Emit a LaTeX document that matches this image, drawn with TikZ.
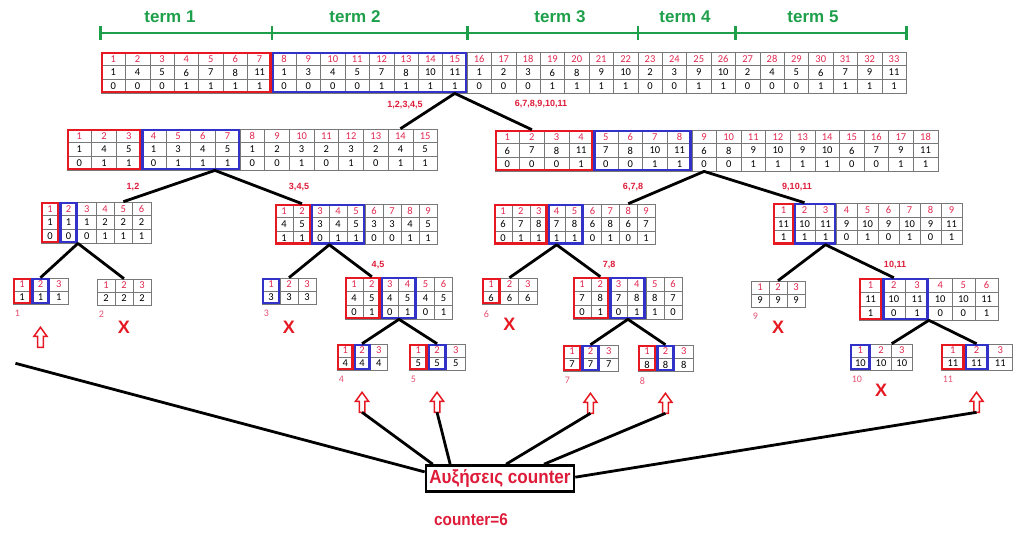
\documentclass[tikz,border=0pt]{standalone}
\usepackage{fontspec}
\setmainfont{Carlito}
\newfontfamily\headfont{Liberation Sans}
\newfontfamily\narrowfont[FakeStretch=0.9]{Liberation Sans}
\usetikzlibrary{calc, positioning}
\definecolor{boxred}{RGB}{230,25,35}
\definecolor{boxblue}{RGB}{50,50,200}
\definecolor{idxred}{RGB}{225,40,80}
\definecolor{lblred}{RGB}{222,28,58}
\definecolor{termgreen}{RGB}{30,160,75}
\definecolor{gridgray}{RGB}{120,120,120}
\tikzstyle{cell}=[draw=gridgray, line width=0.6pt, inner sep=0pt, font=\fontsize{10.5}{10.5}\selectfont]
\tikzstyle{idx}=[cell, text=idxred]
\tikzstyle{redbox}=[draw=boxred, line width=2.6pt]
\tikzstyle{bluebox}=[draw=boxblue, line width=2.6pt]
\tikzstyle{branch}=[line width=2.8pt, black, line join=round]
\tikzstyle{termline}=[draw=termgreen, line width=2.6pt]
\tikzstyle{term}=[text=termgreen, font=\headfont\bfseries\fontsize{17}{17}\selectfont]
\tikzstyle{lbl}=[text=lblred, font=\headfont\bfseries\fontsize{9}{9}\selectfont]
\tikzstyle{leafno}=[text=idxred!80, font=\fontsize{10}{10}\selectfont, inner sep=0pt]
\tikzstyle{miss}=[text=boxred, font=\headfont\bfseries\fontsize{18}{18}\selectfont, inner sep=0pt]
\tikzset{uparr/.pic={
  \draw[draw=boxred, line width=1.5pt, fill=white, line join=miter] (-2.8,0) -- (-2.8,-11) -- (-6.5,-11) -- (0,-20) -- (6.5,-11) -- (2.8,-11) -- (2.8,0) -- cycle;
  \coordinate (-tail) at (0,0);
}}
% table with index row, value row and bit row
\newcommand\numtab[6]{%
  \foreach \val/\bit [count=\i] in {#6}{
    \node[idx, minimum width=#4pt, minimum height=#5pt] (#1-\i-1) at ({#2+(\i-0.5)*#4},{#3+0.5*#5}) {\i};
    \node[cell, minimum width=#4pt, minimum height=#5pt] (#1-\i-2) at ({#2+(\i-0.5)*#4},{#3+1.5*#5}) {\val};
    \node[cell, minimum width=#4pt, minimum height=#5pt] (#1-\i-3) at ({#2+(\i-0.5)*#4},{#3+2.5*#5}) {\bit};
  }}
% leaf table, three cells with the same value
\newcommand\leaftab[5]{%
  \foreach \i in {1,2,3}{
    \node[idx, minimum width=#4pt, minimum height=13pt] (#1-\i-1) at ({#2+(\i-0.5)*#4},{#3+6.5}) {\i};
    \node[cell, minimum width=#4pt, minimum height=13pt] (#1-\i-2) at ({#2+(\i-0.5)*#4},{#3+19.5}) {#5};
  }}
\newcommand\hlbox[3]{\draw[#1] ([shift={(1.4,1.4)}]#2.north west) rectangle ([shift={(-1.4,-1.4)}]#3.south east);}

\begin{document}
\begin{tikzpicture}[x=1pt, y=-1pt]
\fill[white] (0,0) rectangle (1023,533);
\useasboundingbox (0,0) rectangle (1023,533);

% top table
\numtab{T}{101}{52}{24.4}{13.7}{1/0,4/0,5/0,6/1,7/1,8/1,11/1,1/0,3/0,4/0,5/0,7/1,8/1,10/1,11/1,1/0,2/0,3/0,6/1,8/1,9/1,10/1,2/0,3/0,9/1,10/1,2/0,4/0,5/0,6/1,7/1,9/1,11/1}
\hlbox{redbox}{T-1-1}{T-7-3}
\hlbox{bluebox}{T-8-1}{T-15-3}

% terms
\coordinate (bar) at (0,33);
\draw[termline] (T-1-1.north west |- bar) -- (T-33-1.north east |- bar);
\foreach \c in {T-1-1.north west, T-7-1.north east, T-15-1.north east, T-22-1.north east, T-26-1.north east, T-33-1.north east}
  \draw[termline] ($(\c |- bar)+(0,-7)$) -- ($(\c |- bar)+(0,7)$);
\foreach \k/\x in {1/170, 2/355, 3/560, 4/685, 5/813}
  \node[term] (term\k) at (\x,17) {term \k};

% second level
\numtab{A}{67}{129}{24.7}{13.7}{1/0,4/1,5/1,1/0,3/1,4/1,5/1,1/0,2/0,3/1,2/0,3/1,2/0,4/1,5/1}
\hlbox{redbox}{A-1-1}{A-3-3}
\hlbox{bluebox}{A-4-1}{A-7-3}
\numtab{B}{495}{130}{24.6}{13.7}{6/0,7/0,8/0,11/1,7/0,8/0,10/1,11/1,6/0,8/0,9/1,10/1,9/1,10/1,6/0,7/0,9/1,11/1}
\hlbox{redbox}{B-1-1}{B-4-3}
\hlbox{bluebox}{B-5-1}{B-8-3}

% third level
\numtab{A1}{41}{202}{18.3}{13.7}{1/0,1/0,1/0,2/1,2/1,2/1}
\hlbox{redbox}{A1-1-1}{A1-1-3}
\hlbox{bluebox}{A1-2-1}{A1-2-3}
\numtab{A2}{275}{204}{18}{13.5}{4/1,5/1,3/0,4/1,5/1,3/0,3/0,4/1,5/1}
\hlbox{redbox}{A2-1-1}{A2-2-3}
\hlbox{bluebox}{A2-3-1}{A2-5-3}
\numtab{B1}{494}{204}{17.9}{13.5}{6/0,7/1,8/1,7/1,8/1,6/0,8/1,6/0,7/1}
\hlbox{redbox}{B1-1-1}{B1-3-3}
\hlbox{bluebox}{B1-4-1}{B1-5-3}
\numtab{B2}{773}{203}{21}{13.8}{11/1,10/1,11/1,9/0,10/1,9/0,10/1,9/0,11/1}
\hlbox{redbox}{B2-1-1}{B2-1-3}
\hlbox{bluebox}{B2-2-1}{B2-3-3}

% fourth level
\numtab{A2b}{345}{277}{17.9}{14}{4/0,5/1,4/0,5/1,4/0,5/1}
\hlbox{redbox}{A2b-1-1}{A2b-2-3}
\hlbox{bluebox}{A2b-3-1}{A2b-4-3}
\numtab{B1b}{573}{277}{18.2}{14}{7/0,8/1,7/0,8/1,8/1,7/0}
\hlbox{redbox}{B1b-1-1}{B1b-2-3}
\hlbox{bluebox}{B1b-3-1}{B1b-4-3}
\numtab{B2b}{859}{278}{23.2}{14}{11/1,10/0,11/1,10/0,10/0,11/1}
\hlbox{redbox}{B2b-1-1}{B2b-1-3}
\hlbox{bluebox}{B2b-2-1}{B2b-3-3}

% leaves
\leaftab{L1}{13}{278}{18.3}{1}
\leaftab{L2}{97}{279}{18}{2}
\leaftab{L3}{262}{278}{18}{3}
\leaftab{L4}{337}{344}{16.7}{4}
\leaftab{L5}{409}{344}{18.7}{5}
\leaftab{L6}{482}{278}{18.3}{6}
\leaftab{L7}{563}{345}{18.3}{7}
\leaftab{L8}{638}{345}{18.3}{8}
\leaftab{L9}{751}{281}{18}{9}
\leaftab{L10}{850}{344}{20.7}{10}
\leaftab{L11}{941}{344}{23.7}{11}
\foreach \n in {L1, L4, L5, L7, L8, L11}{
  \hlbox{redbox}{\n-1-1}{\n-1-2}
  \hlbox{bluebox}{\n-2-1}{\n-2-2}
}
\hlbox{bluebox}{L3-1-1}{L3-1-2}
\hlbox{redbox}{L6-1-1}{L6-1-2}
\hlbox{bluebox}{L10-1-1}{L10-1-2}
\foreach \k in {1,...,11}
  \node[leafno, anchor=north west] (n\k) at ($(L\k-1-2.south west)+(2,6)$) {\k};

% branches
\draw[branch] (A-14-1.north) -- (T-15-3.south) -- (B-2-1.north);
\draw[branch] (A1-5-1.north) -- (A-7-3.south west) -- (A2-2-1.north);
\draw[branch] (B1-8-1.north) -- (B-9-3.south) -- (B2-2-1.north);
\draw[branch] (L1-2-1.north) -- (A1-2-3.south east) -- (L2-2-1.north);
\draw[branch] (L3-2-1.north) -- (A2-3-3.south east) -- (A2b-2-1.north);
\draw[branch] (L4-2-1.north) -- (A2b-3-3.south east) -- (L5-2-1.north);
\draw[branch] (L6-2-1.north) -- (B1-4-3.south) -- (B1b-2-1.north);
\draw[branch] (L7-2-1.north) -- (B1b-3-3.south east) -- (L8-2-1.north);
\draw[branch] (L9-2-1.north) -- (B2-3-3.south) -- (B2b-2-1.north);
\draw[branch] (L10-2-1.north east) -- (B2b-3-3.south east) -- (L11-2-1.north);

% branch labels
\node[lbl] (l12345) at (405,105) {1,2,3,4,5};
\node[lbl] (l6to11) at (541,104) {6,7,8,9,10,11};
\node[lbl] (l12) at (133,187) {1,2};
\node[lbl] (l345) at (299,187) {3,4,5};
\node[lbl] (l678) at (633,187) {6,7,8};
\node[lbl] (l91011) at (797,187) {9,10,11};
\node[lbl] (l45) at (378,265) {4,5};
\node[lbl] (l78) at (609,265) {7,8};
\node[lbl] (l1011) at (895,265) {10,11};

% misses and hits
\foreach \k/\d in {2/22, 3/23, 6/20, 9/20, 10/20}
  \node[miss] (x\k) at ($(L\k-2-2.south)+(0,\d)$) {X};
\pic (a1) at ($(L1-2-2.south)+(0,43)$) {uparr};
\foreach \k in {4, 5, 7, 8, 11}
  \pic (a\k) at ($(L\k-2-2.south)+(0,42)$) {uparr};

% counter
\node[draw, line width=2.6pt, fill=white, minimum width=148pt, minimum height=26pt, inner sep=0pt, text=lblred, font=\narrowfont\bfseries\fontsize{19}{19}\selectfont] (ctr) at (500,478.5) {Αυξήσεις counter};
\node[text=lblred, font=\narrowfont\bfseries\fontsize{17}{17}\selectfont] (cnt) at (471,520) {counter=6};
\coordinate (tail1) at ($(a1-tail)+(-25,16)$);
\draw[branch] (tail1) -- (ctr.175);
\foreach \a/\ang in {a4/168, a5/164, a7/67, a8/18, a11/1}
  \draw[branch] (\a-tail) -- (ctr.\ang);
\end{tikzpicture}
\end{document}
